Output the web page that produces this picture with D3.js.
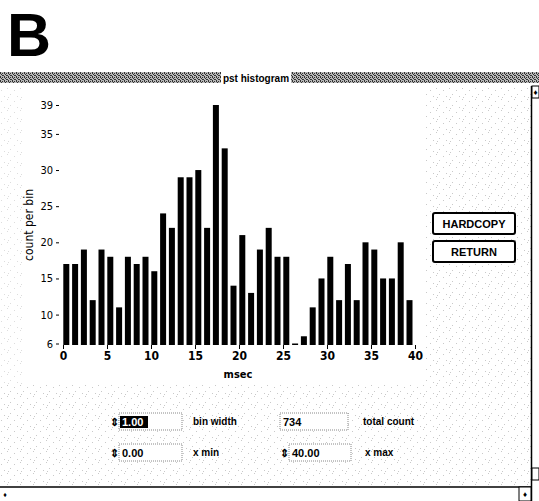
<!DOCTYPE html>
<html>
<head>
<meta charset="utf-8">
<script src="https://cdn.jsdelivr.net/npm/d3@7"></script>
<style>
  html, body { margin: 0; padding: 0; background: #fff; }
  svg { display: block; }
  .axis text { font-family: "Liberation Sans Narrow", "DejaVu Sans Condensed", "Arial Narrow", sans-serif; font-stretch: condensed; font-size: 11px; fill: #000; }
  .axis line { stroke: #000; stroke-width: 1; }
  .ui { font-family: "Liberation Sans", Arial, Helvetica, sans-serif; font-weight: bold; }
</style>
</head>
<body>
<svg id="chart" width="539" height="501"></svg>
<script>
// Post-stimulus-time histogram: spike counts in 1 ms bins from 0 to 40 ms
const counts = [17, 17, 19, 12, 19, 18, 11, 18, 17, 18,
                16, 24, 22, 29, 29, 30, 22, 39, 33, 14,
                21, 13, 19, 22, 18, 18, 6, 7, 11, 15,
                18, 12, 17, 12, 20, 19, 15, 15, 20, 12];
const binWidth = 1.0;
const xMin = 0.0;
const xMax = 40.0;
const xTicks = [0, 5, 10, 15, 20, 25, 30, 35, 40];
const yTicks = [6, 10, 15, 20, 25, 30, 35, 39];
const yDomain = [6, 39];

const svg = d3.select("#chart");

// stippled textures for the window background and the title bar
const defs = svg.append("defs");
const speck = defs.append("pattern").attr("id", "speck")
  .attr("width", 13).attr("height", 11).attr("patternUnits", "userSpaceOnUse");
[[1,2],[7,0],[10,6],[4,8],[8,9]].forEach(([px, py]) =>
  speck.append("rect").attr("x", px).attr("y", py).attr("width", 1).attr("height", 1).attr("fill", "#777"));
const dither = defs.append("pattern").attr("id", "dither")
  .attr("width", 4).attr("height", 4).attr("patternUnits", "userSpaceOnUse");
dither.append("rect").attr("width", 4).attr("height", 4).attr("fill", "#b8b8b8");
[[0,0],[2,1],[1,2],[3,3],[2,3],[0,1]].forEach(([px, py]) =>
  dither.append("rect").attr("x", px).attr("y", py).attr("width", 1).attr("height", 1).attr("fill", "#333"));

// light speckle outside the plotting area
svg.append("rect").attr("x", 425).attr("y", 88).attr("width", 106).attr("height", 398).attr("fill", "url(#speck)").attr("opacity", 0.4);
svg.append("rect").attr("x", 0).attr("y", 385).attr("width", 425).attr("height", 101).attr("fill", "url(#speck)").attr("opacity", 0.4);
svg.append("rect").attr("x", 0).attr("y", 88).attr("width", 22).attr("height", 297).attr("fill", "url(#speck)").attr("opacity", 0.25);

// panel letter
svg.append("text").attr("class", "ui").attr("x", 7).attr("y", 56)
  .attr("font-size", 61).style("font-weight", 900).text("B");

// title bar
svg.append("rect").attr("x", 0).attr("y", 72).attr("width", 539).attr("height", 11).attr("fill", "url(#dither)");
svg.append("rect").attr("x", 221).attr("y", 71).attr("width", 70).attr("height", 13).attr("fill", "#fff");
svg.append("text").attr("class", "ui").attr("x", 256).attr("y", 81.5).attr("text-anchor", "middle")
  .attr("font-size", 10).text("pst histogram");

// scroll bar frame on the right and the bottom edge
svg.append("line").attr("x1", 531.5).attr("x2", 531.5).attr("y1", 86).attr("y2", 501).attr("stroke", "#000").attr("stroke-width", 1.5);
svg.append("rect").attr("x", 532).attr("y", 86).attr("width", 7).attr("height", 12).attr("fill", "#fff").attr("stroke", "#000");
svg.append("text").attr("class", "ui").attr("x", 535.5).attr("y", 95).attr("text-anchor", "middle").attr("font-size", 8).text("♦");
svg.append("rect").attr("x", 532).attr("y", 468).attr("width", 7).attr("height", 12).attr("fill", "#fff").attr("stroke", "#000");
svg.append("line").attr("x1", 0).attr("x2", 531).attr("y1", 487).attr("y2", 487).attr("stroke", "#000").attr("stroke-width", 1.5);
svg.append("rect").attr("x", 519).attr("y", 487).attr("width", 12).attr("height", 14).attr("fill", "#fff").attr("stroke", "#000");
svg.append("text").attr("class", "ui").attr("x", 525).attr("y", 497).attr("text-anchor", "middle").attr("font-size", 8).text("♦");
svg.append("text").attr("class", "ui").attr("x", 5).attr("y", 497).attr("text-anchor", "middle").attr("font-size", 7).text("♦");

// scales
const x = d3.scaleLinear().domain([xMin, xMax]).range([63, 415]);
const y = d3.scaleLinear().domain(yDomain).range([343.5, 105]);

// bars
const barW = 6;
svg.append("g").selectAll("rect").data(counts).join("rect")
  .attr("x", (d, i) => x(xMin + i * binWidth) + 0.3)
  .attr("y", d => y(d))
  .attr("width", barW)
  .attr("height", d => y(yDomain[0]) - y(d) + 1.5)
  .attr("fill", "#000");

// axes (tick marks only, no spine)
const yAxis = svg.append("g").attr("class", "axis").attr("transform", "translate(59,0)")
  .call(d3.axisLeft(y).tickValues(yTicks).tickSize(3).tickPadding(3).tickFormat(d3.format("d")));
yAxis.select(".domain").remove();

const xAxis = svg.append("g").attr("class", "axis").attr("transform", "translate(0,345)")
  .call(d3.axisBottom(x).tickValues(xTicks).tickSize(4).tickPadding(2).tickFormat(d3.format("d")));
xAxis.select(".domain").remove();
xAxis.selectAll("text").style("font-size", "12px").style("font-weight", "bold");

// axis titles
svg.append("text")
  .attr("transform", "translate(33,225) rotate(-90)").attr("text-anchor", "middle")
  .style("font-family", "'Liberation Sans Narrow','DejaVu Sans Condensed',sans-serif")
  .style("font-size", "12px").text("count per bin");
svg.append("text").attr("x", 238).attr("y", 378).attr("text-anchor", "middle")
  .style("font-family", "'Liberation Sans Narrow','DejaVu Sans Condensed',sans-serif")
  .style("font-size", "11px").style("font-weight", "bold").text("msec");

// buttons
const buttons = [{label: "HARDCOPY", y: 213}, {label: "RETURN", y: 241}];
buttons.forEach(b => {
  svg.append("rect").attr("x", 433).attr("y", b.y).attr("width", 82).attr("height", 21).attr("rx", 2)
    .attr("fill", "#fff").attr("stroke", "#000").attr("stroke-width", 2);
  svg.append("text").attr("class", "ui").attr("x", 474).attr("y", b.y + 15).attr("text-anchor", "middle")
    .attr("font-size", 11).text(b.label);
});

// numeric controls under the plot
const totalCount = d3.sum(counts);
const fmt = d3.format(".2f");
const fields = [
  {fx: 119, fy: 413, fw: 63, value: fmt(binWidth), label: "bin width", lx: 193, spin: true, selected: true},
  {fx: 280, fy: 413, fw: 68, value: String(totalCount), label: "total count", lx: 363, spin: false},
  {fx: 119, fy: 444, fw: 63, value: fmt(xMin), label: "x min", lx: 193, spin: true},
  {fx: 289, fy: 444, fw: 62, value: fmt(xMax), label: "x max", lx: 365, spin: true}
];
fields.forEach(f => {
  svg.append("rect").attr("x", f.fx).attr("y", f.fy).attr("width", f.fw).attr("height", 17)
    .attr("fill", "#fff").attr("stroke", "#888").attr("stroke-dasharray", "1,1");
  if (f.spin) {
    svg.append("text").attr("class", "ui").attr("x", f.fx - 5).attr("y", f.fy + 13).attr("text-anchor", "middle")
      .attr("font-size", 11).text("⇕");
  }
  if (f.selected) {
    svg.append("rect").attr("x", f.fx + 1).attr("y", f.fy + 3).attr("width", 28).attr("height", 12).attr("fill", "#000");
  }
  svg.append("text").attr("class", "ui").attr("x", f.fx + 3).attr("y", f.fy + 13)
    .attr("font-size", 11).style("fill", f.selected ? "#fff" : "#000").text(f.value);
  svg.append("text").attr("class", "ui").attr("x", f.lx).attr("y", f.fy + 12)
    .attr("font-size", 10).text(f.label);
});
</script>
</body>
</html>
